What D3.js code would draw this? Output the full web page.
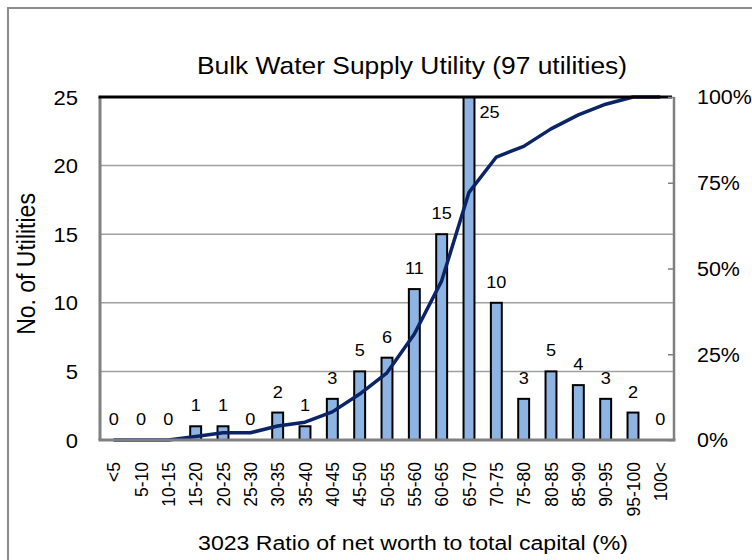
<!DOCTYPE html>
<html>
<head>
<meta charset="utf-8">
<script src="https://cdn.jsdelivr.net/npm/d3@7"></script>
<style>
body { margin:0; background:#fff; }
text { font-family: "Liberation Sans", Arial, sans-serif; fill:#000; }
</style>
</head>
<body>
<div id="chart"></div>
<script>
// categories of ratio of net worth to total capital
var categories = ["<5","5-10","10-15","15-20","20-25","25-30","30-35","35-40","40-45","45-50","50-55","55-60","60-65","65-70","70-75","75-80","80-85","85-90","90-95","95-100","100<"];
// number of utilities
var counts = [0,0,0,1,1,0,2,1,3,5,6,11,15,25,10,3,5,4,3,2,0];
// cumulative share (%)
var cumulative = [0,0,0,1.0,2.1,2.1,4.1,5.2,8.2,13.4,19.6,30.9,46.4,72.2,82.5,85.6,90.7,94.8,97.9,100,100];
var leftTicks = [0,5,10,15,20,25];
var rightTicks = [0,25,50,75,100];

var W = 752, H = 560;
var margin = {top:97, left:100, right:78, bottom:120};
var width = W - margin.left - margin.right,
	height = H - margin.top - margin.bottom;
var SX = 1.1; //text in the original is a bit wide

var svg = d3.select("#chart").append("svg")
	.attr("width", W)
	.attr("height", H);

//outer frame
svg.append("rect")
	.attr("x", 8).attr("y", 8)
	.attr("width", W + 20).attr("height", H + 20)
	.style("fill", "none")
	.style("stroke", "#8c8c8c")
	.style("stroke-width", "2px");

svg.append("text")
	.attr("transform", "translate(412,74) scale(" + SX + ",1)")
	.attr("text-anchor", "middle")
	.style("font-size", "24px")
	.text("Bulk Water Supply Utility (97 utilities)");

var g = svg.append("g")
	.attr("transform", "translate(" + margin.left + "," + margin.top + ")");

var x = d3.scaleBand().domain(categories).range([0, width]);
var y = d3.scaleLinear().domain([0, 25]).range([height, 0]);
var y2 = d3.scaleLinear().domain([0, 100]).range([height, 0]);

//gridlines
g.selectAll(".grid")
	.data(leftTicks.filter(function(d){ return d > 0 && d < 25; }))
	.enter().append("line")
	.attr("x1", 0).attr("x2", width)
	.attr("y1", function(d){ return y(d); })
	.attr("y2", function(d){ return y(d); })
	.style("stroke", "#a0a0a0")
	.style("stroke-width", "1.5px");

//bars
var bw = x.bandwidth() * 0.4;
g.selectAll(".bar")
	.data(counts)
	.enter().append("rect")
	.attr("x", function(d,i){ return x(categories[i]) + (x.bandwidth() - bw)/2; })
	.attr("y", function(d){ return y(d); })
	.attr("width", bw)
	.attr("height", function(d){ return height - y(d); })
	.style("fill", "#8db4e2")
	.style("stroke", "#000")
	.style("stroke-width", "2px")
	.style("display", function(d){ return d > 0 ? null : "none"; });

//data labels
g.selectAll(".lbl")
	.data(counts)
	.enter().append("text")
	.attr("transform", function(d,i){
		var cx = x(categories[i]) + x.bandwidth()/2;
		var lx = d >= 25 ? cx + bw/2 + 5 : cx,
			ly = d >= 25 ? y(d) + 21 : y(d) - 15;
		return "translate(" + lx + "," + ly + ") scale(" + SX + ",1)";
	})
	.attr("text-anchor", function(d){ return d >= 25 ? "start" : "middle"; })
	.style("font-size", "16.5px")
	.text(function(d){ return d; });

//cumulative line
var line = d3.line()
	.x(function(d,i){ return x(categories[i]) + x.bandwidth()/2; })
	.y(function(d){ return y2(d); });
g.append("path")
	.datum(cumulative)
	.attr("d", line)
	.style("fill", "none")
	.style("stroke", "#0a2466")
	.style("stroke-width", "3.5px")
	.style("stroke-linejoin", "round");

//spines
g.append("line").attr("x1",0).attr("x2",0).attr("y1",0).attr("y2",height)
	.style("stroke","#808080").style("stroke-width","3px");
g.append("line").attr("x1",width).attr("x2",width).attr("y1",0).attr("y2",height)
	.style("stroke","#808080").style("stroke-width","2.5px");
g.append("line").attr("x1",-1.5).attr("x2",width+1.5).attr("y1",height).attr("y2",height)
	.style("stroke","#808080").style("stroke-width","3px");
g.append("line").attr("x1",-1.5).attr("x2",width-2).attr("y1",0).attr("y2",0)
	.style("stroke","#000").style("stroke-width","3px");

//left axis
var yAxis = g.append("g")
	.attr("transform", "translate(-22,0)")
	.call(d3.axisLeft(y).tickValues(leftTicks).tickSize(0).tickPadding(0));
yAxis.select(".domain").remove();
yAxis.selectAll("text")
	.style("font-size","20px")
	.attr("x", 0)
	.attr("dy","0.35em")
	.attr("transform", "scale(" + SX + ",1)");

//right axis
var yAxis2 = g.append("g")
	.attr("transform", "translate(" + width + ",0)")
	.call(d3.axisRight(y2).tickValues(rightTicks).tickSize(-6).tickFormat(function(d){ return d + "%"; }));
yAxis2.select(".domain").remove();
yAxis2.selectAll("line").style("stroke","#808080").style("stroke-width","1.5px");
yAxis2.selectAll("text")
	.style("font-size","19.5px")
	.attr("x", 23/SX)
	.attr("dy","0.35em")
	.attr("transform", "scale(" + SX + ",1)");

//x axis
var xAxis = g.append("g")
	.attr("transform", "translate(0," + height + ")")
	.call(d3.axisBottom(x).tickSize(0));
xAxis.select(".domain").remove();
xAxis.selectAll("text")
	.style("font-size","17.5px")
	.attr("transform","scale(" + SX + ",1) rotate(-90)")
	.attr("text-anchor","end")
	.attr("x", -22)
	.attr("y", 0)
	.attr("dy", "0.35em");

//axis titles
svg.append("text")
	.attr("transform","translate(35,264) scale(" + SX + ",1) rotate(-90)")
	.attr("text-anchor","middle")
	.style("font-size","23px")
	.text("No. of Utilities");

svg.append("text")
	.attr("transform","translate(413,550) scale(" + SX + ",1)")
	.attr("text-anchor","middle")
	.style("font-size","21px")
	.text("3023 Ratio of net worth to total capital (%)");
</script>
</body>
</html>
